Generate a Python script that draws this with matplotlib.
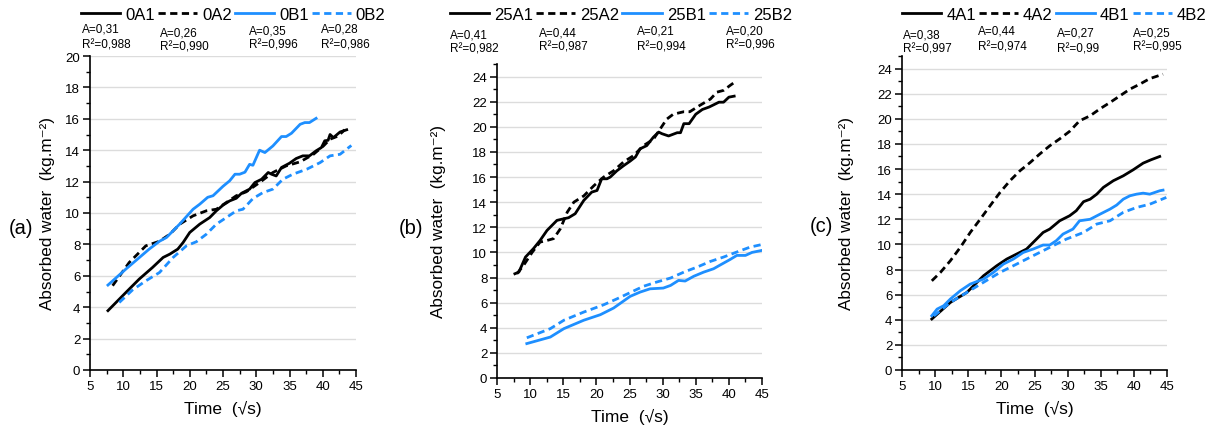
import numpy as np
import matplotlib.pyplot as plt
from matplotlib.ticker import MultipleLocator

plt.rcParams['font.family'] = ['Liberation Sans', 'DejaVu Sans']

# ---- panel (a) ----
a_labels = ["0A1", "0A2", "0B1", "0B2"]
a_fit_A = ["A=0,31", "A=0,26", "A=0,35", "A=0,28"]
a_fit_R2 = ["R²=0,988", "R²=0,990", "R²=0,996", "R²=0,986"]
a_0A1_x = [7.7, 10.4, 12.4, 14.4, 16.0, 17.0, 18.2, 19.0, 20.0, 21.5, 23.0, 24.0, 25.0, 26.0, 27.0, 27.8, 29.0, 29.8,
           30.8, 31.8, 32.3, 33.0, 33.8, 35.0, 36.0, 37.0, 38.0, 39.0, 39.8, 40.3, 40.8, 41.1, 41.6, 42.6, 43.6]
a_0A1_y = [3.78, 4.94, 5.79, 6.53, 7.17, 7.38, 7.70, 8.12, 8.76, 9.29, 9.71, 10.14, 10.50, 10.77, 10.94, 11.26, 11.52, 11.94,
           12.15, 12.58, 12.47, 12.36, 12.90, 13.17, 13.47, 13.64, 13.64, 13.96, 14.17, 14.60, 14.63, 15.00, 14.80, 15.16, 15.30]
a_0A2_x = [8.4, 10.9, 13.4, 15.45, 17.0, 18.5, 20.5, 22.5, 24.0, 25.5, 27.0, 28.5, 30.5, 32.5, 34.5, 36.6, 38.6, 40.1, 41.1, 42.3, 43.3]
a_0A2_y = [5.37, 6.85, 7.91, 8.20, 8.65, 9.29, 9.82, 10.14, 10.24, 10.67, 11.10, 11.35, 11.94, 12.58, 13.00, 13.26, 13.74, 14.27, 14.70, 14.90, 15.30]
a_0B1_x = [7.7, 10.4, 13.9, 15.45, 16.5, 18.5, 20.5, 21.5, 22.7, 23.5, 25.0, 26.0, 26.8, 27.5, 28.3, 29.0, 29.5, 30.5,
           31.3, 32.5, 33.8, 34.5, 35.3, 36.6, 37.3, 38.0, 39.0]
a_0B1_y = [5.41, 6.43, 7.70, 8.20, 8.44, 9.30, 10.24, 10.56, 11.00, 11.10, 11.70, 12.05, 12.47, 12.47, 12.60, 13.10, 13.04, 14.00,
           13.85, 14.27, 14.87, 14.87, 15.08, 15.65, 15.76, 15.76, 16.03]
a_0B2_x = [9.4, 11.4, 13.4, 15.45, 17.5, 19.5, 21.0, 22.5, 24.0, 25.5, 27.0, 28.0, 29.5, 31.0, 32.5, 34.0, 35.5, 37.6, 39.6, 41.1, 42.6, 44.3]
a_0B2_y = [4.30, 5.10, 5.68, 6.21, 7.17, 7.91, 8.17, 8.65, 9.29, 9.71, 10.14, 10.24, 10.92, 11.30, 11.52, 12.15, 12.47, 12.79, 13.21, 13.64, 13.74, 14.30]

# ---- panel (b) ----
b_labels = ["25A1", "25A2", "25B1", "25B2"]
b_fit_A = ["A=0,41", "A=0,44", "A=0,21", "A=0,20"]
b_fit_R2 = ["R²=0,982", "R²=0,987", "R²=0,994", "R²=0,996"]
b_25A1_x = [7.7, 8.3, 9.3, 10.5, 11.5, 12.55, 14.05, 15.1, 15.8, 16.8, 18.1, 19.3, 20.1, 20.8, 21.6, 22.1, 23.1, 24.1, 25.1, 25.9,
            26.6, 27.6, 28.6, 29.4, 29.9, 30.9, 32.2, 32.7, 33.2, 34.0, 35.0, 36.0, 37.0, 37.7, 38.5, 39.2, 40.0, 40.8]
b_25A1_y = [8.30, 8.43, 9.63, 10.30, 10.95, 11.75, 12.55, 12.68, 12.76, 13.08, 14.14, 14.80, 14.93, 15.86, 15.86, 16.00, 16.50, 16.90, 17.27, 17.60,
            18.25, 18.50, 19.17, 19.58, 19.45, 19.27, 19.53, 19.53, 20.25, 20.25, 21.00, 21.38, 21.57, 21.75, 21.96, 21.96, 22.36, 22.44]
b_25A2_x = [8.0, 9.0, 10.3, 11.5, 12.55, 13.55, 14.56, 15.6, 16.6, 18.1, 19.6, 21.1, 22.6, 24.1, 25.6, 27.1, 28.6, 29.6, 30.6, 31.6,
            33.2, 34.1, 35.6, 37.2, 38.2, 39.2, 40.2, 41.0]
b_25A2_y = [8.30, 8.96, 10.00, 10.82, 10.95, 11.10, 11.88, 13.20, 14.00, 14.50, 15.30, 16.00, 16.50, 17.20, 17.70, 18.50, 19.00, 19.80, 20.60, 21.00,
            21.20, 21.20, 21.70, 22.20, 22.76, 22.90, 23.30, 23.60]
b_25B1_x = [9.5, 13.05, 15.1, 18.1, 20.6, 22.6, 25.1, 26.6, 28.1, 30.1, 31.2, 32.4, 33.4, 34.7, 36.2, 37.7, 38.7, 40.2, 41.2, 42.5, 43.5, 45.0]
b_25B1_y = [2.74, 3.26, 3.93, 4.60, 5.04, 5.57, 6.50, 6.84, 7.10, 7.16, 7.37, 7.77, 7.72, 8.10, 8.43, 8.70, 9.00, 9.44, 9.76, 9.76, 10.00, 10.16]
b_25B2_x = [9.5, 13.05, 15.1, 18.1, 21.1, 23.1, 25.1, 27.1, 29.1, 31.2, 33.2, 35.2, 37.2, 39.2, 41.2, 43.2, 45.0]
b_25B2_y = [3.20, 3.93, 4.60, 5.25, 5.83, 6.30, 6.80, 7.30, 7.64, 7.96, 8.43, 8.83, 9.28, 9.63, 10.03, 10.42, 10.63]

# ---- panel (c) ----
c_labels = ["4A1", "4A2", "4B1", "4B2"]
c_fit_A = ["A=0,38", "A=0,44", "A=0,27", "A=0,25"]
c_fit_R2 = ["R²=0,997", "R²=0,974", "R²=0,99", "R²=0,995"]
c_4A1_x = [9.5, 12.3, 14.8, 17.3, 19.3, 20.8, 22.3, 23.8, 25.3, 26.3, 27.3, 28.8, 30.3, 31.3, 32.4, 33.4, 34.4, 35.4,
           36.9, 38.4, 39.9, 41.4, 42.6, 43.9]
c_4A1_y = [4.06, 5.38, 6.18, 7.50, 8.30, 8.83, 9.23, 9.63, 10.42, 10.95, 11.22, 11.88, 12.28, 12.68, 13.40, 13.60, 14.00, 14.54,
           15.07, 15.46, 15.94, 16.47, 16.74, 17.00]
c_4A2_x = [9.5, 10.8, 12.3, 13.8, 15.3, 16.8, 18.3, 19.8, 21.3, 22.8, 24.3, 25.8, 27.3, 28.8, 30.3, 31.8, 33.4, 34.9,
           36.4, 37.9, 39.4, 40.9, 42.4, 44.4]
c_4A2_y = [7.10, 7.77, 8.70, 9.76, 10.95, 12.00, 13.08, 14.14, 15.07, 15.86, 16.50, 17.20, 17.85, 18.40, 19.00, 19.84, 20.24, 20.80,
           21.30, 21.83, 22.36, 22.76, 23.20, 23.55]
c_4B1_x = [9.5, 10.3, 11.3, 12.3, 13.8, 15.3, 17.3, 18.8, 20.3, 21.8, 23.3, 24.8, 26.3, 27.3, 28.3, 29.3, 30.8, 31.8,
           33.4, 34.9, 36.4, 37.4, 38.4, 39.4, 40.4, 41.4, 42.4, 43.9, 44.4]
c_4B1_y = [4.32, 4.85, 5.12, 5.65, 6.31, 6.84, 7.24, 7.77, 8.43, 8.83, 9.36, 9.63, 9.95, 9.95, 10.30, 10.82, 11.22, 11.88,
           12.00, 12.41, 12.81, 13.13, 13.60, 13.87, 14.00, 14.08, 14.00, 14.27, 14.32]
c_4B2_x = [9.8, 12.3, 14.8, 17.3, 19.8, 22.3, 24.8, 27.3, 29.8, 32.4, 34.4, 36.4, 38.4, 40.4, 42.4, 44.9]
c_4B2_y = [4.30, 5.38, 6.18, 6.98, 7.77, 8.43, 9.10, 9.76, 10.42, 10.95, 11.62, 11.88, 12.55, 12.94, 13.20, 13.74]

blue = '#1e8fff'
styles = [('black', 'solid'), ('black', (0, (2.6, 1.6))), (blue, 'solid'), (blue, (0, (2.6, 1.6)))]

W, H = 1212, 435
fig = plt.figure(figsize=(W / 100, H / 100), dpi=100)


def px(x, y):
    return (x / W, 1 - y / H)


# text positions: (left x, y of the "A=" line) in pixels
panels = [
    dict(rect=(90, 57, 356, 371), ylim=20, letter="(a)", letter_pos=(21, 228), ylab_x=48,
         series=[(a_0A1_x, a_0A1_y), (a_0A2_x, a_0A2_y), (a_0B1_x, a_0B1_y), (a_0B2_x, a_0B2_y)],
         labels=a_labels, A=a_fit_A, R2=a_fit_R2, leg=(81, 15),
         txt=[(82, 30), (160, 33), (249, 31), (321, 30)]),
    dict(rect=(497, 65, 762, 379), ylim=25, letter="(b)", letter_pos=(411, 228), ylab_x=438,
         series=[(b_25A1_x, b_25A1_y), (b_25A2_x, b_25A2_y), (b_25B1_x, b_25B1_y), (b_25B2_x, b_25B2_y)],
         labels=b_labels, A=b_fit_A, R2=b_fit_R2, leg=(450, 15),
         txt=[(450, 35), (539, 33), (637, 32), (726, 31)]),
    dict(rect=(902, 57, 1167, 371), ylim=25, letter="(c)", letter_pos=(821, 227), ylab_x=847,
         series=[(c_4A1_x, c_4A1_y), (c_4A2_x, c_4A2_y), (c_4B1_x, c_4B1_y), (c_4B2_x, c_4B2_y)],
         labels=c_labels, A=c_fit_A, R2=c_fit_R2, leg=(902, 15),
         txt=[(903, 35), (978, 32), (1057, 34), (1133, 33)]),
]

for p in panels:
    l, t, r, b = p['rect']
    ax = fig.add_axes([l / W, 1 - b / H, (r - l) / W, (b - t) / H])
    for (xs, ys), (col, ls), lab in zip(p['series'], styles, p['labels']):
        ax.plot(xs, ys, color=col, linestyle=ls, lw=2.0, label=lab)
    ax.set_xlim(5, 45)
    ax.set_ylim(0, p['ylim'])
    ax.xaxis.set_major_locator(MultipleLocator(5))
    ax.xaxis.set_minor_locator(MultipleLocator(2.5))
    ax.yaxis.set_major_locator(MultipleLocator(2))
    ax.yaxis.set_minor_locator(MultipleLocator(1))
    ax.grid(True, axis='y', which='major', color='#dcdcdc', lw=1.0)
    ax.set_axisbelow(True)
    for s in ['top', 'right']:
        ax.spines[s].set_visible(False)
    for s in ['left', 'bottom']:
        ax.spines[s].set_linewidth(1.2)
    ax.tick_params(which='major', direction='out', length=5, width=1.1, labelsize=9.5, pad=2)
    ax.tick_params(which='minor', direction='out', length=3, width=1.0)
    ax.set_xlabel("Time  (√s)", fontsize=12.5, labelpad=6)
    fig.text(*px(p['ylab_x'], (t + b) / 2), "Absorbed water  (kg.m⁻²)", rotation=90,
             fontsize=12.3, ha='center', va='center')
    fig.text(*px(*p['letter_pos']), p['letter'], fontsize=14.5, ha='center', va='center')
    ax.legend(loc='center left', bbox_to_anchor=px(*p['leg']), bbox_transform=fig.transFigure,
              ncol=4, frameon=False, fontsize=12, borderpad=0, borderaxespad=0,
              handlelength=2.35, handletextpad=0.3, columnspacing=0.18)
    for (tx, ty), sa, sr in zip(p['txt'], p['A'], p['R2']):
        fig.text(*px(tx, ty), sa, fontsize=8.5, ha='left', va='center')
        fig.text(*px(tx, ty + 15), sr, fontsize=8.5, ha='left', va='center')

plt.savefig('out.png', dpi=100)
